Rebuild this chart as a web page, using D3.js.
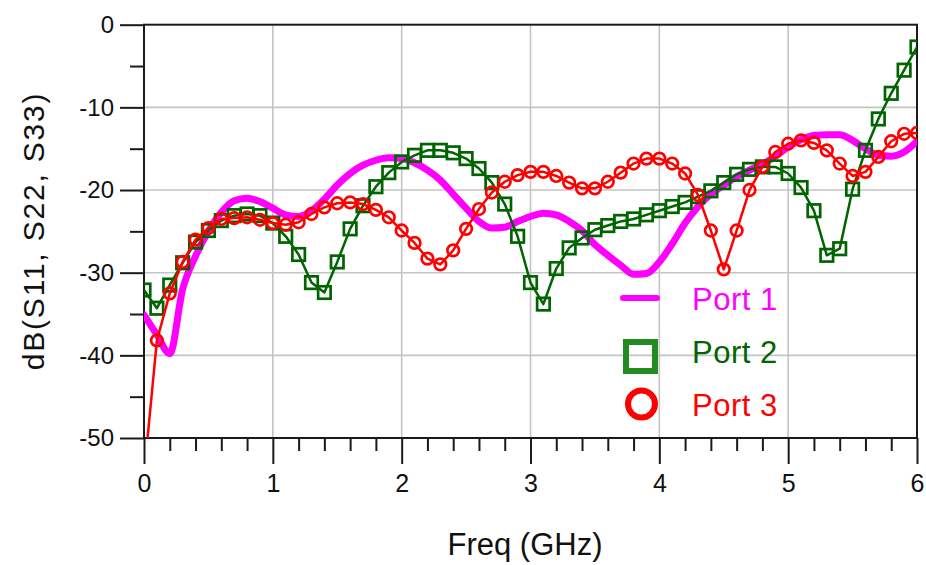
<!DOCTYPE html>
<html>
<head>
<meta charset="utf-8">
<script src="https://cdn.jsdelivr.net/npm/d3@7/dist/d3.min.js"></script>
<style>
  html, body { margin: 0; padding: 0; background: #fff; }
  svg { display: block; font-family: "Liberation Sans", Arial, sans-serif; }
</style>
</head>
<body>
<svg id="chart" width="926" height="565"></svg>
<script>
// Frequency sweep (GHz)
const freqGHz = [
  0.0, 0.1, 0.2, 0.3, 0.4, 0.5, 0.6, 0.7, 0.8, 0.9,
  1.0, 1.1, 1.2, 1.3, 1.4, 1.5, 1.6, 1.7, 1.8, 1.9,
  2.0, 2.1, 2.2, 2.3, 2.4, 2.5, 2.6, 2.7, 2.8, 2.9,
  3.0, 3.1, 3.2, 3.3, 3.4, 3.5, 3.6, 3.7, 3.8, 3.9,
  4.0, 4.1, 4.2, 4.3, 4.4, 4.5, 4.6, 4.7, 4.8, 4.9,
  5.0, 5.1, 5.2, 5.3, 5.4, 5.5, 5.6, 5.7, 5.8, 5.9, 6.0
];

// dB(S11)
const port1 = [
  -35.1, -37.5, -39.8, -32.0, -28.0, -25.0, -22.7, -21.3, -21.0, -21.4,
  -22.2, -23.0, -23.2, -22.5, -21.1, -19.4, -18.0, -17.0, -16.4, -16.1,
  -16.2, -16.7, -17.6, -18.8, -20.5, -22.2, -23.8, -24.6, -24.5, -23.8,
  -23.2, -22.8, -23.0, -23.8, -24.9, -26.6, -27.9, -29.1, -30.2, -30.1,
  -28.7, -26.5, -24.0, -22.0, -20.5, -19.4, -18.4, -17.6, -16.9, -15.9,
  -14.8, -13.9, -13.4, -13.3, -13.3, -14.0, -15.0, -15.8, -15.9, -15.4, -14.1
];

// dB(S22)
const port2 = [
  -32.1, -34.3, -31.5, -28.8, -26.3, -24.9, -23.7, -23.1, -22.9, -23.1,
  -24.0, -25.6, -27.8, -31.2, -32.4, -28.7, -24.7, -21.9, -19.6, -17.9,
  -16.6, -15.8, -15.2, -15.2, -15.5, -16.2, -17.4, -19.1, -21.7, -25.6,
  -31.2, -33.8, -29.5, -27.0, -25.8, -24.8, -24.3, -23.8, -23.5, -23.0,
  -22.5, -22.0, -21.5, -20.8, -20.1, -19.1, -18.1, -17.5, -17.2, -17.2,
  -18.0, -19.7, -22.5, -27.9, -27.1, -19.9, -15.2, -11.4, -8.3, -5.5, -2.7
];

// dB(S33)
const port3 = [
  -54.5, -38.2, -32.5, -28.7, -26.0, -24.6, -23.5, -23.4, -23.3, -23.6,
  -24.0, -24.2, -23.9, -22.9, -22.1, -21.6, -21.5, -21.7, -22.4, -23.3,
  -24.9, -26.4, -28.3, -29.0, -27.3, -24.7, -22.3, -20.3, -19.0, -18.2,
  -17.8, -17.8, -18.3, -19.1, -19.8, -19.8, -19.0, -17.9, -16.8, -16.2,
  -16.2, -16.8, -18.0, -20.6, -24.9, -29.6, -24.9, -20.0, -17.2, -15.4,
  -14.4, -14.0, -14.3, -15.2, -16.8, -18.3, -17.8, -16.0, -14.1, -13.2, -13.1
];

const xTicks = [0, 1, 2, 3, 4, 5, 6];
const xMinorTicks = [
  0.2, 0.4, 0.6, 0.8, 1.2, 1.4, 1.6, 1.8, 2.2, 2.4, 2.6, 2.8,
  3.2, 3.4, 3.6, 3.8, 4.2, 4.4, 4.6, 4.8, 5.2, 5.4, 5.6, 5.8
];
const yTicks = [0, -10, -20, -30, -40, -50];
const yMinorTicks = [-5, -15, -25, -35, -45];
const legendLabels = ["Port 1", "Port 2", "Port 3"];

const C_MAGENTA = "#ff00ff";
const C_GREEN = "#006400";
const C_GREEN_LEG = "#228b22";
const C_RED = "#ff0000";

const svg = d3.select("#chart");
const plotL = 144, plotR = 917, plotT = 24.7, plotB = 438;

const x = d3.scaleLinear().domain([0, 6]).range([plotL, plotR]);
const y = d3.scaleLinear().domain([-50, 0]).range([plotB, plotT]);

// grid
const grid = svg.append("g").attr("stroke", "#c4c4c4").attr("stroke-width", 1.6);
xTicks.slice(1, -1).forEach(v => {
  grid.append("line").attr("x1", x(v)).attr("x2", x(v)).attr("y1", plotT).attr("y2", plotB);
});
yTicks.slice(1, -1).forEach(v => {
  grid.append("line").attr("x1", plotL).attr("x2", plotR).attr("y1", y(v)).attr("y2", y(v));
});

// axes
const axisStyle = g => {
  g.select(".domain").remove();
  g.selectAll(".tick line").attr("stroke", "#1a1a1a").attr("stroke-width", 2);
  g.selectAll(".tick text").attr("fill", "#111").attr("font-family", "Liberation Sans, Arial, sans-serif");
};
const plainNum = d => String(d);

svg.append("g")
  .attr("transform", `translate(0,${plotB})`)
  .call(d3.axisBottom(x).tickValues(xTicks).tickSize(26).tickPadding(10).tickFormat(plainNum))
  .call(axisStyle)
  .call(g => g.selectAll(".tick text").attr("font-size", 25).attr("dy", "0.71em"));

svg.append("g")
  .attr("transform", `translate(0,${plotB})`)
  .call(d3.axisBottom(x).tickValues(xMinorTicks).tickSize(13).tickFormat(""))
  .call(axisStyle);

svg.append("g")
  .attr("transform", `translate(${plotL},0)`)
  .call(d3.axisLeft(y).tickValues(yTicks).tickSize(24).tickPadding(6).tickFormat(plainNum))
  .call(axisStyle)
  .call(g => g.selectAll(".tick text").attr("font-size", 24));

svg.append("g")
  .attr("transform", `translate(${plotL},0)`)
  .call(d3.axisLeft(y).tickValues(yMinorTicks).tickSize(14).tickFormat(""))
  .call(axisStyle);

// plot frame
svg.append("rect")
  .attr("x", plotL).attr("y", plotT)
  .attr("width", plotR - plotL).attr("height", plotB - plotT)
  .attr("fill", "none").attr("stroke", "#1a1a1a").attr("stroke-width", 2);

// clip
svg.append("defs").append("clipPath").attr("id", "plotClip")
  .append("rect").attr("x", plotL).attr("y", plotT)
  .attr("width", plotR - plotL).attr("height", plotB - plotT);

const plot = svg.append("g").attr("clip-path", "url(#plotClip)");

const pts = vals => vals.map((v, i) => [freqGHz[i], v]);

// Port 1: thick smooth trace
plot.append("path")
  .datum(pts(port1))
  .attr("fill", "none").attr("stroke", C_MAGENTA).attr("stroke-width", 7)
  .attr("stroke-linejoin", "round").attr("stroke-linecap", "round")
  .attr("d", d3.line().x(d => x(d[0])).y(d => y(d[1])).curve(d3.curveMonotoneX));

// Port 2: line with square markers
plot.append("path")
  .datum(pts(port2))
  .attr("fill", "none").attr("stroke", C_GREEN).attr("stroke-width", 2.5)
  .attr("stroke-linejoin", "round")
  .attr("d", d3.line().x(d => x(d[0])).y(d => y(d[1])));
const sq = 12.5;
plot.append("g").selectAll("rect").data(pts(port2)).join("rect")
  .attr("x", d => x(d[0]) - sq / 2).attr("y", d => y(d[1]) - sq / 2)
  .attr("width", sq).attr("height", sq)
  .attr("fill", "none").attr("stroke", C_GREEN).attr("stroke-width", 2.7);

// Port 3: line with circle markers
plot.append("path")
  .datum(pts(port3))
  .attr("fill", "none").attr("stroke", C_RED).attr("stroke-width", 2.5)
  .attr("stroke-linejoin", "round")
  .attr("d", d3.line().x(d => x(d[0])).y(d => y(d[1])));
plot.append("g").selectAll("circle").data(pts(port3)).join("circle")
  .attr("cx", d => x(d[0])).attr("cy", d => y(d[1])).attr("r", 5.8)
  .attr("fill", "none").attr("stroke", C_RED).attr("stroke-width", 2.7);

// legend
const leg = svg.append("g");
leg.append("line").attr("x1", 623).attr("x2", 657).attr("y1", 298).attr("y2", 298)
  .attr("stroke", C_MAGENTA).attr("stroke-width", 6).attr("stroke-linecap", "round");
leg.append("rect").attr("x", 626).attr("y", 342).attr("width", 29).attr("height", 29)
  .attr("fill", "none").attr("stroke", C_GREEN_LEG).attr("stroke-width", 6);
leg.append("circle").attr("cx", 641.5).attr("cy", 404).attr("r", 13.5)
  .attr("fill", "none").attr("stroke", C_RED).attr("stroke-width", 6);
const legColors = [C_MAGENTA, C_GREEN, C_RED];
const legBase = [310, 363, 416];
legendLabels.forEach((t, i) => {
  leg.append("text").attr("x", 692).attr("y", legBase[i])
    .attr("font-size", 31).attr("letter-spacing", 0.5).attr("fill", legColors[i]).text(t);
});

// axis titles
svg.append("text")
  .attr("x", 525).attr("y", 555)
  .attr("text-anchor", "middle").attr("font-size", 31).attr("fill", "#111")
  .text("Freq (GHz)");

svg.append("text")
  .attr("transform", "translate(44,231) rotate(-90)")
  .attr("text-anchor", "middle").attr("font-size", 30).attr("letter-spacing", 1.8).attr("fill", "#111")
  .text("dB(S11, S22, S33)");
</script>
</body>
</html>
